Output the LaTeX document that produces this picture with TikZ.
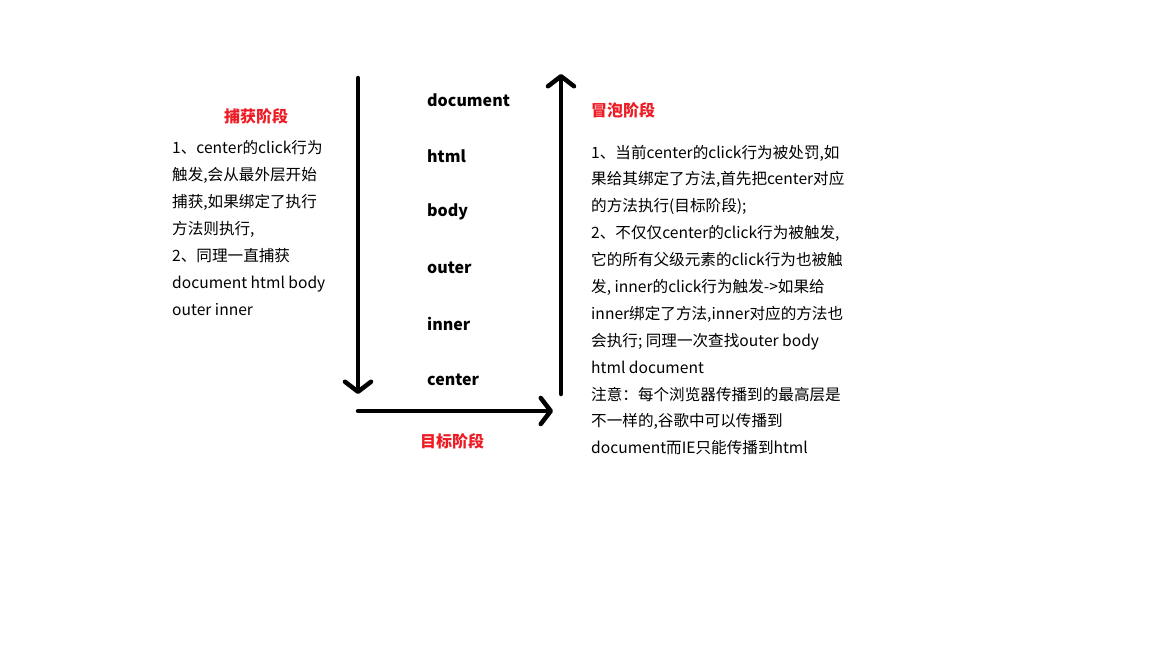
\documentclass[tikz,border=0pt]{standalone}
\usepackage{fontspec}
\setmainfont{Noto Sans CJK SC}
\usetikzlibrary{arrows.meta}
\definecolor{phasered}{RGB}{237,28,36}
\tikzset{flow/.style={line width=4.5pt, line cap=round, -{Straight Barb[length=10pt, width=26pt, round]}},
  phase/.style={font=\fontsize{16}{18}\selectfont\bfseries, text=phasered, inner sep=0pt},
  elem/.style={font=\fontsize{16}{18}\selectfont\bfseries, anchor=west, inner sep=0pt},
  note/.style={font=\fontsize{15.6}{26.9}\selectfont, align=left, anchor=west, inner sep=0pt}}

\begin{document}
\begin{tikzpicture}[x=1pt, y=-1pt]
  \useasboundingbox (0,0) rectangle (1152,648);
  % elements from outermost to target
  \node[elem] (doc)   at (427,100) {document};
  \node[elem] (html)  at (427,156) {html};
  \node[elem] (body)  at (427,212) {body};
  \node[elem] (outer) at (427,268) {outer};
  \node[elem] (inner) at (427,324) {inner};
  \node[elem] (ctr)   at (427,380) {center};
  % phase arrows
  \coordinate (captop) at (358,78);
  \coordinate (capbot) at (358,394);
  \coordinate (tgtend) at (553,411);
  \coordinate (bubbot) at (561,394);
  \coordinate (bubtop) at (561,74);
  \draw[flow] (captop) -- (capbot);
  \draw[flow] (capbot |- tgtend) -- (tgtend);
  \draw[flow] (bubbot) -- (bubtop);
  % phase titles
  \node[phase] (capture) at (256,116) {捕获阶段};
  \node[phase] (target)  at (452,441) {目标阶段};
  \node[phase, anchor=west] (bubble) at (591,110) {冒泡阶段};
  % notes
  \node[note] (capnote) at (172,228) {1、center的click行为\\触发,会从最外层开始\\捕获,如果绑定了执行\\方法则执行,\\2、同理一直捕获\\document html body\\outer inner};
  \node[note] (bubnote) at (591,300) {1、当前center的click行为被处罚,如\\果给其绑定了方法,首先把center对应\\的方法执行(目标阶段);\\2、不仅仅center的click行为被触发,\\它的所有父级元素的click行为也被触\\发, inner的click行为触发->如果给\\inner绑定了方法,inner对应的方法也\\会执行;\ 同理一次查找outer body\\html document\\注意：每个浏览器传播到的最高层是\\不一样的,谷歌中可以传播到\\document而IE只能传播到html};
\end{tikzpicture}
\end{document}
